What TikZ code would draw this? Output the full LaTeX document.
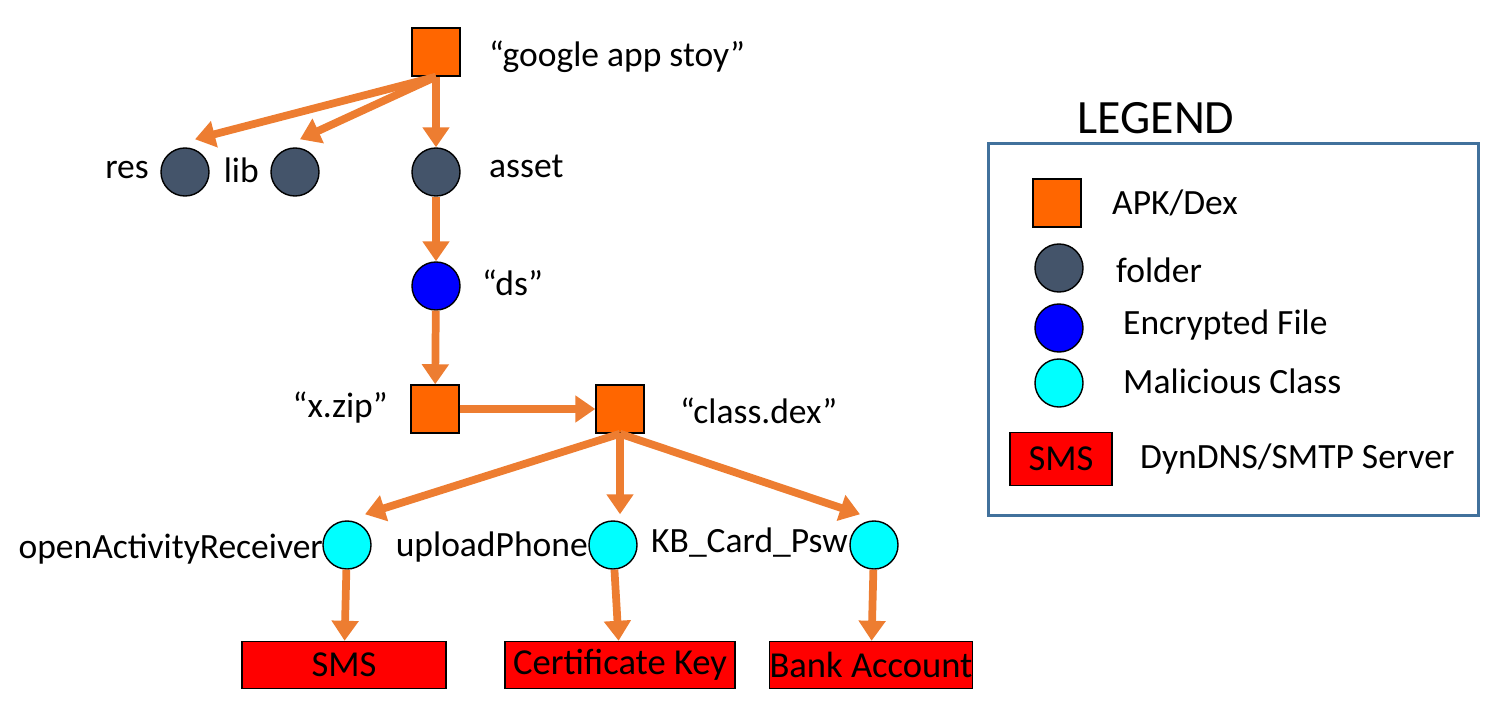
\documentclass[tikz,border=0pt]{standalone}
\usepackage{fontspec}
\setmainfont{Carlito}
\usetikzlibrary{arrows.meta,positioning}
\definecolor{apkorange}{RGB}{255,102,0}
\definecolor{foldergray}{RGB}{68,84,106}
\definecolor{arrorange}{RGB}{237,125,49}
\definecolor{legblue}{RGB}{65,113,156}
\definecolor{malcyan}{RGB}{0,255,255}

\tikzset{
  apk/.style={draw=black,fill=apkorange,minimum size=0.48cm,inner sep=0pt},
  folder/.style={circle,draw=black,fill=foldergray,minimum size=0.48cm,inner sep=0pt},
  encfile/.style={circle,draw=black,fill=blue,minimum size=0.48cm,inner sep=0pt},
  malclass/.style={circle,draw=black,fill=malcyan,minimum size=0.48cm,inner sep=0pt},
  server/.style={draw=black,fill=red,minimum height=0.47cm,inner sep=0pt,font=\fontsize{10.4}{12}\selectfont},
  lbl/.style={font=\fontsize{10.1}{12}\selectfont,inner sep=1pt},
  flow/.style={arrorange,line width=2.2pt,-{Triangle[length=0.2cm,width=0.26cm]}}
}

\begin{document}
\begin{tikzpicture}[x=0.01cm,y=-0.01cm]
  \useasboundingbox (0,0) rectangle (1503,703);

  % APK tree
  \node[apk] (app) at (436,52) {};
  \node[lbl,anchor=west] (applbl) at (485,57) {“google app stoy”};

  \node[folder] (res) at (185,172) {};
  \node[lbl,anchor=east] (reslbl) at (153,170) {res};
  \node[folder] (lib) at (295,172) {};
  \node[lbl,anchor=east] (liblbl) at (263,170) {lib};
  \node[folder] (asset) at (436,172) {};
  \node[lbl,anchor=west] (assetlbl) at (485,166) {asset};

  \node[encfile] (ds) at (436,286) {};
  \node[lbl,anchor=west] (dslbl) at (478,283) {“ds”};

  \node[apk] (xzip) at (435,409) {};
  \node[lbl,anchor=east] (xziplbl) at (392,408) {“x.zip”};
  \node[apk] (dex) at (620,409) {};
  \node[lbl,anchor=west] (dexlbl) at (676,411) {“class.dex”};

  % Malicious classes
  \node[malclass] (open) at (347,545) {};
  \node[lbl,anchor=east] (openlbl) at (327,549) {openActivityReceiver};
  \node[malclass] (upload) at (613,545) {};
  \node[lbl,anchor=east] (uploadlbl) at (592,547) {uploadPhone};
  \node[malclass] (kb) at (874,545) {};
  \node[lbl,anchor=east] (kblbl) at (852,543) {KB\_Card\_Psw};

  % Servers
  \node[server,minimum width=2.04cm] (sms) at (344,665) {SMS};
  \node[server,minimum width=2.30cm] (cert) at (620,665) {Certificate Key};
  \node[server,minimum width=2.03cm] (bank) at (871,665) {Bank Account};

  % Connectors
  \draw[flow] (app.south) -- ([xshift=0.1cm,yshift=0.08cm]res.north);
  \draw[flow] (app.south) -- ([xshift=0.05cm,yshift=0.08cm]lib.north);
  \draw[flow] (app) -- (asset);
  \draw[flow] (asset) -- (ds);
  \draw[flow] (ds) -- (xzip);
  \draw[flow] (xzip) -- (dex);
  \draw[flow] (dex.south) -- ([xshift=0.18cm,yshift=0.06cm]open.north);
  \draw[flow] (dex.south) -- ([xshift=0.07cm,yshift=0.06cm]upload.north);
  \draw[flow] (dex.south) -- ([xshift=-0.14cm,yshift=0.06cm]kb.north);
  \draw[flow] (open) -- (sms);
  \draw[flow] (upload) -- (cert);
  \draw[flow] (kb) -- (bank);

  % Legend
  \node[font=\fontsize{13.6}{16}\selectfont] (legtitle) at (1156,118) {LEGEND};
  \node[draw=legblue,thick,minimum width=4.89cm,minimum height=3.71cm] (legbox) at (1233.5,329.5) {};
  \node[apk] (legapk) at (1057,203) {};
  \node[lbl,anchor=west] at (1108,203) {APK/Dex};
  \node[folder] (legfolder) at (1059,268) {};
  \node[lbl,anchor=west] at (1112,270) {folder};
  \node[encfile] (legenc) at (1059,328) {};
  \node[lbl,anchor=west] at (1119,325) {Encrypted File};
  \node[malclass] (legmal) at (1059,383) {};
  \node[lbl,anchor=west] at (1119,381) {Malicious Class};
  \node[server,minimum width=1.02cm,minimum height=0.53cm] (legsms) at (1061,459) {SMS};
  \node[lbl,anchor=west] at (1136,459) {DynDNS/SMTP Server};
\end{tikzpicture}
\end{document}
